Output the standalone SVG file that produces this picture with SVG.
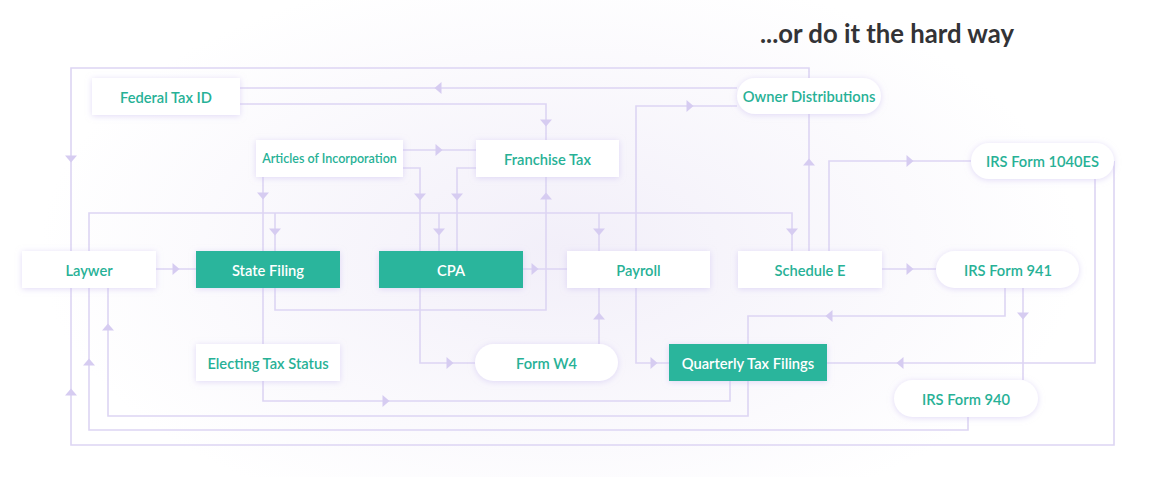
<svg xmlns="http://www.w3.org/2000/svg" xmlns:xlink="http://www.w3.org/1999/xlink" width="1164" height="477" viewBox="0 0 1164 477">
<defs>
<radialGradient id="bg" cx="560" cy="250" r="520" gradientUnits="userSpaceOnUse" gradientTransform="translate(560 250) scale(1 0.55) translate(-560 -250)">
<stop offset="0" stop-color="#f2eff9"/>
<stop offset="1" stop-color="#ffffff"/>
</radialGradient>
<filter id="sh" x="-20%" y="-40%" width="140%" height="180%">
<feDropShadow dx="0" dy="1" stdDeviation="3" flood-color="#c9bdf0" flood-opacity="0.55"/>
</filter>
<path id="ar" d="M-3.5,-6 L3.5,0 L-3.5,6 Z"/>
<style>
.ln{fill:none;stroke:#ddd5f3;stroke-width:1.6}
.ah{fill:#d6ccf1}
.box{fill:#ffffff;filter:url(#sh)}
.fill{fill:#2bb59c;filter:url(#sh)}
.t{font-family:Lato,"Open Sans","Liberation Sans",sans-serif;font-size:14.7px;font-weight:600;fill:#27b196;text-anchor:middle;dominant-baseline:central}
.tw{fill:#ffffff}
.ts{font-size:12.5px}
.title{font-family:Lato,"Open Sans","Liberation Sans",sans-serif;font-size:25.7px;font-weight:700;fill:#333336}
</style>
</defs>
<rect width="1164" height="477" fill="url(#bg)"/>
<text class="title" x="760" y="43">...or do it the hard way</text>
<g id="connectors">
<path class="ln" d="M809,78 V68 H71 V251"/>
<path class="ln" d="M1114,161 V445 H71 V288"/>
<path class="ln" d="M737,88 H240"/>
<path class="ln" d="M240,104 H546 V140"/>
<path class="ln" d="M636,251 V106 H737"/>
<path class="ln" d="M403,150 H476"/>
<path class="ln" d="M403,168 H420 V251"/>
<path class="ln" d="M420,288 V363 H475"/>
<path class="ln" d="M476,168 H457 V251"/>
<path class="ln" d="M89,251 V213 H792 V251 M275,213 V251 M439,213 V251 M599,213 V251"/>
<path class="ln" d="M263,177 V251"/>
<path class="ln" d="M263,288 V344"/>
<path class="ln" d="M263,381 V401 H730 V381"/>
<path class="ln" d="M275,288 V310 H546 V177"/>
<path class="ln" d="M523,269 H567"/>
<path class="ln" d="M599,344 V288"/>
<path class="ln" d="M636,288 V363 H669"/>
<path class="ln" d="M809,251 V114"/>
<path class="ln" d="M829,251 V161 H971"/>
<path class="ln" d="M882,269 H936"/>
<path class="ln" d="M1023,288 V380"/>
<path class="ln" d="M1005,288 V316 H748 V416 H108 V288"/>
<path class="ln" d="M968,417 V430 H89 V288"/>
<path class="ln" d="M1095,179 V363 H827"/>
<path class="ln" d="M156,269 H196"/>
<g class="ah">
<use xlink:href="#ar" transform="translate(71,159) rotate(90)"/>
<use xlink:href="#ar" transform="translate(71,392) rotate(-90)"/>
<use xlink:href="#ar" transform="translate(438,88) rotate(180)"/>
<use xlink:href="#ar" transform="translate(546,123) rotate(90)"/>
<use xlink:href="#ar" transform="translate(690,106)"/>
<use xlink:href="#ar" transform="translate(439,150)"/>
<use xlink:href="#ar" transform="translate(420,197) rotate(90)"/>
<use xlink:href="#ar" transform="translate(450,363)"/>
<use xlink:href="#ar" transform="translate(457,197) rotate(90)"/>
<use xlink:href="#ar" transform="translate(275,232) rotate(90)"/>
<use xlink:href="#ar" transform="translate(439,232) rotate(90)"/>
<use xlink:href="#ar" transform="translate(599,232) rotate(90)"/>
<use xlink:href="#ar" transform="translate(792,232) rotate(90)"/>
<use xlink:href="#ar" transform="translate(263,196) rotate(90)"/>
<use xlink:href="#ar" transform="translate(386,401)"/>
<use xlink:href="#ar" transform="translate(546,196) rotate(-90)"/>
<use xlink:href="#ar" transform="translate(535,269)"/>
<use xlink:href="#ar" transform="translate(599,316) rotate(-90)"/>
<use xlink:href="#ar" transform="translate(654,363)"/>
<use xlink:href="#ar" transform="translate(809,162) rotate(-90)"/>
<use xlink:href="#ar" transform="translate(910,161)"/>
<use xlink:href="#ar" transform="translate(910,269)"/>
<use xlink:href="#ar" transform="translate(1023,316) rotate(90)"/>
<use xlink:href="#ar" transform="translate(829,316) rotate(180)"/>
<use xlink:href="#ar" transform="translate(108,327) rotate(-90)"/>
<use xlink:href="#ar" transform="translate(89,362) rotate(-90)"/>
<use xlink:href="#ar" transform="translate(900,363) rotate(180)"/>
<use xlink:href="#ar" transform="translate(176,269)"/>
</g>
</g>
<g id="federal-tax-id"><rect class="box" x="92" y="78" width="148" height="37"/><text class="t" x="166" y="96.5">Federal Tax ID</text></g>
<g id="articles"><rect class="box" x="256" y="140" width="147" height="37"/><text class="t ts" x="329.5" y="158.5">Articles of Incorporation</text></g>
<g id="franchise-tax"><rect class="box" x="476" y="140" width="143" height="37"/><text class="t" x="547.5" y="158.5">Franchise Tax</text></g>
<g id="owner-distributions"><rect class="box" x="737" y="78" width="144" height="36" rx="18"/><text class="t" x="809" y="96">Owner Distributions</text></g>
<g id="irs-1040es"><rect class="box" x="971" y="143" width="143" height="36" rx="18"/><text class="t" x="1042.5" y="161">IRS Form 1040ES</text></g>
<g id="laywer"><rect class="box" x="22" y="251" width="134" height="37"/><text class="t" x="89" y="269.5">Laywer</text></g>
<g id="state-filing"><rect class="fill" x="196" y="251" width="144" height="37"/><text class="t tw" x="268" y="269.5">State Filing</text></g>
<g id="cpa"><rect class="fill" x="379" y="251" width="144" height="37"/><text class="t tw" x="451" y="269.5">CPA</text></g>
<g id="payroll"><rect class="box" x="567" y="251" width="143" height="37"/><text class="t" x="638.5" y="269.5">Payroll</text></g>
<g id="schedule-e"><rect class="box" x="738" y="251" width="144" height="37"/><text class="t" x="810" y="269.5">Schedule E</text></g>
<g id="irs-941"><rect class="box" x="936" y="251" width="143" height="37" rx="18.5"/><text class="t" x="1008" y="269.5">IRS Form 941</text></g>
<g id="electing-tax-status"><rect class="box" x="196" y="344" width="144" height="37"/><text class="t" x="268" y="362.5">Electing Tax Status</text></g>
<g id="form-w4"><rect class="box" x="475" y="344" width="143" height="37" rx="18.5"/><text class="t" x="546.5" y="362.5">Form W4</text></g>
<g id="quarterly-tax-filings"><rect class="fill" x="669" y="344" width="158" height="37"/><text class="t tw" x="748" y="362.5">Quarterly Tax Filings</text></g>
<g id="irs-940"><rect class="box" x="894" y="380" width="144" height="37" rx="18.5"/><text class="t" x="966" y="398.5">IRS Form 940</text></g>
</svg>
